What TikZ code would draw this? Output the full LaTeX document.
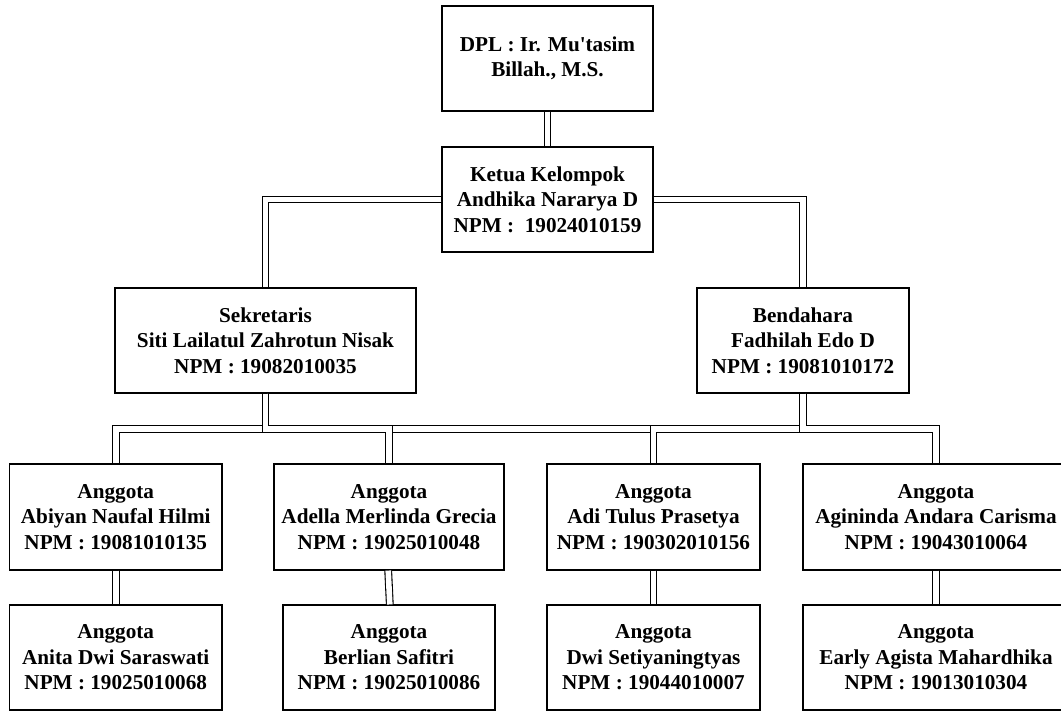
\documentclass[tikz,border=0pt]{standalone}
\usepackage{fontspec}
\setmainfont{Liberation Serif}
\newfontfamily\plainquote{Liberation Serif}[Ligatures=TeXOff]
\begin{document}
\begin{tikzpicture}[x=1pt,y=-1pt,
  box/.style={draw=black, line width=1.1pt, fill=white, inner sep=0pt,
    align=center, font=\bfseries\fontsize{21.2}{25.5}\selectfont},
  conn/.style={draw=black, line width=1.1pt, double=white, double distance=5.6pt, line join=miter}]
\useasboundingbox (0,0) rectangle (1061,711);
\clip (0,0) rectangle (1061,711);
% boxes
\node[box, minimum width=211pt, minimum height=105pt] (dpl) at (547.5,58.5) {DPL : Ir. Mu{\plainquote\bfseries '}tasim\\Billah., M.S.};
\node[box, minimum width=211pt, minimum height=105pt] (ket) at (547.5,199.5) {Ketua Kelompok\\Andhika Nararya D\\NPM : \ 19024010159};
\node[box, minimum width=301pt, minimum height=105pt] (sek) at (265.5,340.5) {Sekretaris\\Siti Lailatul Zahrotun Nisak\\NPM : 19082010035};
\node[box, minimum width=212pt, minimum height=105pt] (ben) at (803,340.5) {Bendahara\\Fadhilah Edo D\\NPM : 19081010172};
\node[box, minimum width=212.5pt, minimum height=106pt] (a1) at (115.75,517) {Anggota\\Abiyan Naufal Hilmi\\NPM : 19081010135};
\node[box, minimum width=230pt, minimum height=106pt] (a2) at (389,517) {Anggota\\Adella Merlinda Grecia\\NPM : 19025010048};
\node[box, minimum width=213pt, minimum height=106pt] (a3) at (653.5,517) {Anggota\\Adi Tulus Prasetya\\NPM : 190302010156};
\node[box, minimum width=266pt, minimum height=106pt] (a4) at (936,517) {Anggota\\Agininda Andara Carisma\\NPM : 19043010064};
\node[box, minimum width=212.5pt, minimum height=105pt] (b1) at (115.75,657.5) {Anggota\\Anita Dwi Saraswati\\NPM : 19025010068};
\node[box, minimum width=212pt, minimum height=105pt] (b2) at (389,657.5) {Anggota\\Berlian Safitri\\NPM : 19025010086};
\node[box, minimum width=213pt, minimum height=105pt] (b3) at (653.5,657.5) {Anggota\\Dwi Setiyaningtyas\\NPM : 19044010007};
\node[box, minimum width=266pt, minimum height=105pt] (b4) at (936,657.5) {Anggota\\Early Agista Mahardhika\\NPM : 19013010304};
% connectors
\draw[conn] (dpl.south) -- (ket.north);
\draw[conn] (ket.west) -| (sek.north);
\draw[conn] (ket.east) -| (ben.north);
\draw[conn] (sek.south) -- ++(0,35.5) -| (a3.north);
\draw[conn] (sek.south) -- ++(0,35.5) -| (a1.north);
\draw[conn] (sek.south) -- ++(0,35.5) -| (a2.north);
\draw[conn] (ben.south) -- ++(0,35.5) -| (a3.north);
\draw[conn] (ben.south) -- ++(0,35.5) -| (a4.north);
\draw[conn] (a1.south) -- (b1.north);
\draw[conn] ([xshift=-0.8pt]a2.south) -- ([xshift=0.8pt]b2.north);
\draw[conn] (a3.south) -- (b3.north);
\draw[conn] (a4.south) -- (b4.north);
\end{tikzpicture}
\end{document}
